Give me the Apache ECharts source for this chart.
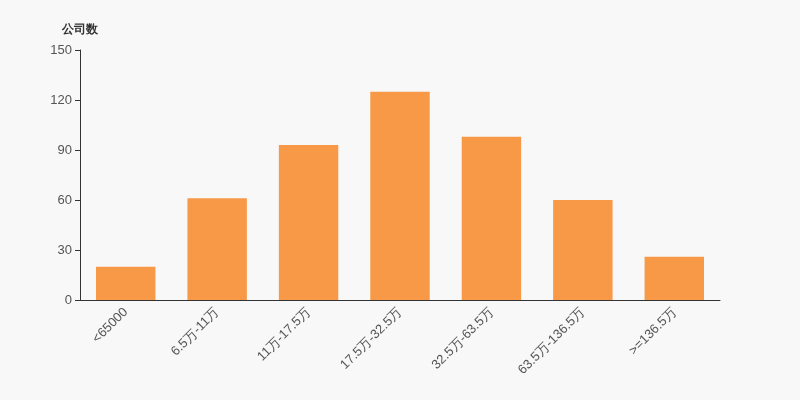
<!DOCTYPE html>
<html><head><meta charset="utf-8">
<script src="https://cdn.jsdelivr.net/npm/echarts@6/dist/echarts.min.js"></script>
<style>html,body{margin:0;padding:0;background:#f8f8f8}#c{width:800px;height:400px}</style>
</head><body><div id="c"></div>
<script>
const categories = ["<65000", "6.5万-11万", "11万-17.5万", "17.5万-32.5万", "32.5万-63.5万", "63.5万-136.5万", ">=136.5万"];
const values = [20, 61, 93, 125, 98, 60, 26];
const chart = echarts.init(document.getElementById('c'));
chart.setOption({
  backgroundColor: '#f8f8f8',
  animation: false,
  grid: { left: 80, right: 80, top: 50, bottom: 100 },
  xAxis: {
    type: 'category', data: categories,
    axisLine: { lineStyle: { color: '#333' } },
    axisTick: { lineStyle: { color: '#333' } },
    axisLabel: { rotate: 45, color: '#555', fontSize: 13, interval: 0, margin: 10 }
  },
  yAxis: {
    type: 'value', min: 0, max: 150, interval: 30,
    name: '公司数', nameGap: 14,
    nameTextStyle: { color: '#333', fontWeight: 'bold', fontSize: 12, align: 'center' },
    axisLine: { show: true, lineStyle: { color: '#333' } },
    axisTick: { show: true, lineStyle: { color: '#333' } },
    axisLabel: { color: '#555', fontSize: 13 },
    splitLine: { show: false }
  },
  series: [{
    type: 'bar', data: values, barWidth: '65%',
    itemStyle: { color: '#F79947' }
  }]
});
</script></body></html>
